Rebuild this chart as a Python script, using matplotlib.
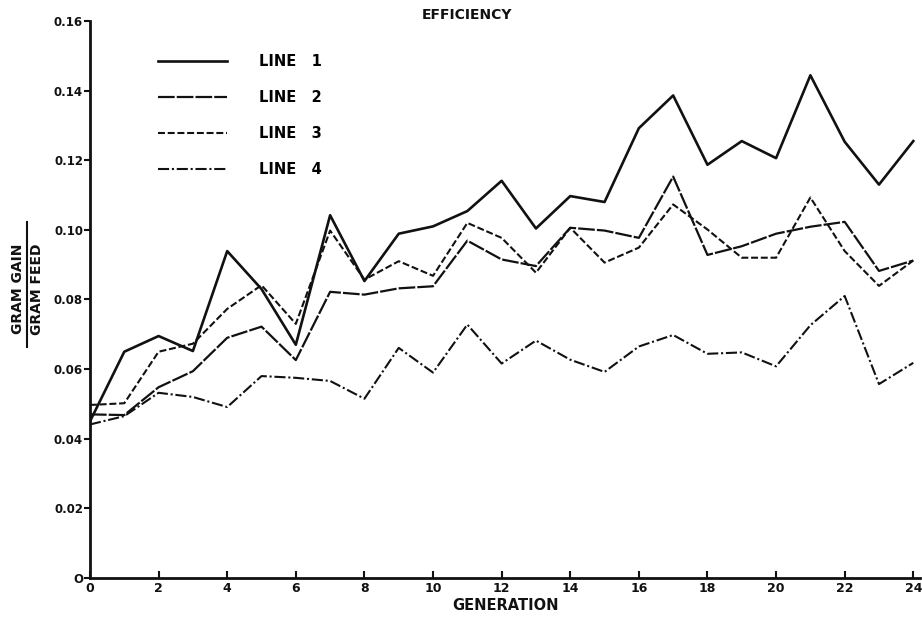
import matplotlib
matplotlib.use("Agg")
from matplotlib import pyplot as plt
from matplotlib.lines import Line2D

plt.rcParams['font.family'] = ['DejaVu Sans']
plt.rcParams['lines.scale_dashes'] = False

generation = list(range(25))

line_1 = [0.045, 0.065, 0.0695, 0.0652, 0.0939, 0.083, 0.067, 0.1042, 0.0853, 0.0989,
          0.101, 0.1054, 0.1141, 0.1004, 0.1097, 0.108, 0.1292, 0.1386, 0.1187, 0.1255,
          0.1206, 0.1444, 0.1253, 0.113, 0.1255]
line_2 = [0.047, 0.0468, 0.0548, 0.0594, 0.069, 0.0722, 0.0626, 0.0822, 0.0814, 0.0832,
          0.0838, 0.0969, 0.0915, 0.0896, 0.1006, 0.0998, 0.0977, 0.1153, 0.0928, 0.0953,
          0.0989, 0.1009, 0.1023, 0.0882, 0.0912]
line_3 = [0.0497, 0.0502, 0.065, 0.0673, 0.0773, 0.0841, 0.073, 0.0998, 0.0857, 0.091,
          0.0868, 0.102, 0.0977, 0.0877, 0.1006, 0.0906, 0.0949, 0.1073, 0.1001, 0.092,
          0.092, 0.1093, 0.0939, 0.0839, 0.0912]
line_4 = [0.0441, 0.0465, 0.0532, 0.052, 0.0491, 0.058, 0.0575, 0.0566, 0.0515, 0.0661,
          0.059, 0.0728, 0.0616, 0.0682, 0.0627, 0.0592, 0.0665, 0.0698, 0.0644, 0.0648,
          0.0608, 0.0726, 0.081, 0.0557, 0.0618]

labels = ["LINE   1", "LINE   2", "LINE   3", "LINE   4"]
x_ticks = list(range(0, 25, 2))
y_ticks = [0, 0.02, 0.04, 0.06, 0.08, 0.10, 0.12, 0.14, 0.16]
y_tick_labels = ["O", "0.02", "0.04", "0.06", "0.08", "0.10", "0.12", "0.14", "0.16"]

ink = "#111111"

fig = plt.figure(figsize=(9.22, 6.17), dpi=100)
ax = fig.add_axes([0.0976, 0.0632, 0.9004, 0.9028])

ax.plot(generation, line_1, color=ink, lw=1.9, label=labels[0])
ax.plot(generation, line_2, color=ink, lw=1.6, dashes=(12, 1.5), label=labels[1])
ax.plot(generation, line_3, color=ink, lw=1.5, dashes=(5, 2), label=labels[2])
ax.plot(generation, line_4, color=ink, lw=1.5, dashes=(8, 2, 1.5, 2), label=labels[3])

ax.set_xlim(0, 24.2)
ax.set_ylim(0, 0.16)
for side in ("top", "right"):
    ax.spines[side].set_visible(False)
for side in ("left", "bottom"):
    ax.spines[side].set_linewidth(2)
    ax.spines[side].set_color(ink)

ax.set_xticks(x_ticks)
ax.set_xticklabels([str(t) for t in x_ticks], fontsize=9, fontweight='bold', color=ink)
ax.set_yticks(y_ticks)
ax.set_yticklabels(y_tick_labels, fontsize=8.5, fontweight='bold', color=ink)
ax.tick_params(axis='x', direction='in', length=5, width=1.5, pad=3, colors=ink)
ax.tick_params(axis='y', direction='out', length=4, width=1.5, pad=1, colors=ink)

ax.set_xlabel("GENERATION", fontsize=10.5, fontweight='bold', color=ink, labelpad=2)
fig.text(0.507, 0.975, "EFFICIENCY", ha='center', va='center', fontsize=10,
         fontweight='bold', color=ink)

# ratio label drawn as a stacked fraction
fig.text(0.020, 0.532, "GRAM GAIN", rotation=90, ha='center', va='center', fontsize=10,
         fontweight='bold', color=ink)
fig.text(0.040, 0.532, "GRAM FEED", rotation=90, ha='center', va='center', fontsize=10,
         fontweight='bold', color=ink)
fig.add_artist(Line2D([0.0295, 0.0295], [0.437, 0.640], transform=fig.transFigure,
                      color=ink, lw=1.5))

ax.legend(loc='upper left', bbox_to_anchor=(0.082, 0.941), frameon=False,
          prop={'weight': 'bold', 'size': 10.5}, handlelength=4.7, handletextpad=2.2,
          labelspacing=1.45, borderaxespad=0, borderpad=0)

fig.savefig("out.png", dpi=100, facecolor='white')
